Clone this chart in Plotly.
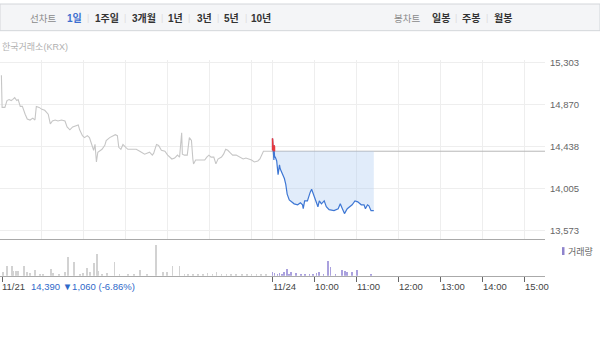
import plotly.graph_objects as go

# ---------------- data ----------------
prev_close = 14390
y_ticks = [13573, 14005, 14438, 14870, 15303]

# day 1 (11/21): minutes after 09:00, price
day1_min = [2, 3, 7, 10, 13, 16, 18, 21, 24, 26, 29, 32, 36, 39, 43, 47, 50, 52, 56, 60,
            64, 69, 72, 75, 79, 83, 88, 93, 96, 100, 104, 109, 112, 114, 118, 121, 125, 128, 131, 134,
            136, 138, 140, 143, 146, 150, 152, 157, 162, 165, 168, 170, 173, 176, 180, 183, 190, 195, 200, 207,
            214, 218, 220, 224, 227, 231, 236, 240, 246, 250, 254, 257, 260, 261, 264, 268, 271, 274, 276, 277,
            280, 286, 293, 296, 299, 302, 306, 309, 312, 317, 320, 323, 326, 330, 333, 338, 343, 348, 352, 357,
            360, 364, 369, 372, 375, 377, 388]
day1_price = [15170, 14840, 14840, 14910, 14920, 14910, 14920, 14940, 14910, 14920, 14850, 14850, 14770, 14720, 14710, 14730, 14710, 14850, 14840, 14820,
              14810, 14770, 14670, 14700, 14710, 14700, 14710, 14700, 14640, 14610, 14640, 14650, 14660, 14610, 14550, 14530, 14550, 14530, 14460, 14400,
              14460, 14280, 14380, 14400, 14410, 14450, 14500, 14530, 14550, 14560, 14550, 14430, 14410, 14460, 14430, 14410, 14410, 14410, 14390, 14360,
              14380, 14350, 14370, 14460, 14450, 14400, 14390, 14350, 14310, 14320, 14350, 14330, 14580, 14360, 14350, 14350, 14530, 14500, 14310, 14260,
              14300, 14300, 14300, 14330, 14350, 14330, 14330, 14260, 14310, 14330, 14360, 14410, 14400, 14370, 14350, 14350, 14330, 14310, 14320, 14310,
              14300, 14280, 14290, 14310, 14360, 14390, 14390]

# day 2 (11/24): minutes after 09:00, price
day2_min = [0, 0, 1, 2, 2, 3, 3, 4, 6, 8, 10, 11, 14, 17, 19, 21, 24, 27, 31, 36,
            40, 43, 44, 46, 50, 54, 56, 60, 63, 65, 67, 70, 74, 77, 81, 88, 94, 97, 100, 103,
            107, 111, 114, 118, 122, 127, 131, 133, 136, 138, 141, 145]
day2_price = [14400, 14520, 14400, 14300, 14450, 14440, 14330, 14330, 14290, 14150, 14250, 14210, 14160, 14110, 14050, 13950, 13890, 13870, 13850, 13840,
              13860, 13840, 13800, 13880, 13880, 13970, 14000, 13920, 13870, 13820, 13880, 13850, 13880, 13820, 13790, 13780, 13800, 13850, 13800, 13750,
              13800, 13820, 13840, 13880, 13870, 13840, 13840, 13800, 13840, 13830, 13780, 13780]

# volumes (thousand shares)
vol1_min = [4, 10, 17, 19, 23, 26, 34, 39, 43, 50, 57, 62, 73, 76, 84, 93, 97, 106, 114, 119,
            124, 129, 134, 139, 140, 146, 153, 164, 171, 183, 192, 200, 210, 223, 233, 239, 247, 257, 264, 269,
            276, 283, 290, 297, 304, 310, 317, 324, 331, 338, 346, 353, 360, 367, 374, 381]
vol1 = [4, 10, 10, 5, 5, 5, 10, 4, 3, 6, 2, 2, 7, 3, 2, 4, 19, 14, 2, 3,
        8, 4, 13, 22, 5, 2, 3, 14, 2, 2, 2, 6, 2, 31, 4, 4, 10, 10, 2, 2,
        2, 2, 2, 3, 2, 4, 2, 2, 2, 2, 2, 2, 2, 2, 2, 2]
vol2_min = [0, 3, 7, 10, 14, 17, 21, 24, 27, 34, 41, 47, 53, 58, 63, 67, 73, 79, 83, 90,
            100, 104, 107, 114, 121, 141]
vol2 = [4, 3, 2, 3, 2, 4, 7, 2, 4, 3, 2, 2, 2, 2, 3, 4, 2, 15, 9, 2,
        6, 5, 4, 4, 6, 1]

day_offset = 390          # trading minutes per day (09:00-15:30)
hour_ticks_day1 = [60, 120, 180, 240, 300, 360]
hour_ticks_day2 = [0, 60, 120, 180, 240, 300, 360]
time_labels = ["11/24", "10:00", "11:00", "12:00", "13:00", "14:00", "15:00"]

# ---------------- derived ----------------
x1 = day1_min
x2 = [m + day_offset for m in day2_min]
grid_x = hour_ticks_day1 + [m + day_offset for m in hour_ticks_day2]
v1x = vol1_min
v2x = [m + day_offset for m in vol2_min]


def above(xs, ys, ref):
    rx, ry = [], []
    for i in range(len(xs) - 1):
        xa, ya, xb, yb = xs[i], ys[i], xs[i + 1], ys[i + 1]
        if ya <= ref and yb <= ref:
            continue
        if ya > ref and yb > ref:
            seg = [(xa, ya), (xb, yb)]
        elif ya > ref:
            t = (ya - ref) / (ya - yb)
            seg = [(xa, ya), (xa + t * (xb - xa), ref)]
        else:
            t = (ref - ya) / (yb - ya)
            seg = [(xa + t * (xb - xa), ref), (xb, yb)]
        rx += [seg[0][0], seg[1][0], None]
        ry += [seg[0][1], seg[1][1], None]
    return rx, ry


W, H = 600, 341
def py(p):  # pixel y -> paper
    return 1 - p / H
def px(p):
    return p / W

FONT = "Liberation Sans, Noto Sans CJK KR, sans-serif"
XMAX = 780

fig = go.Figure()

# day 1 line
fig.add_trace(go.Scatter(x=x1, y=day1_price, mode="lines",
                         line=dict(color="#c6c6c6", width=1.1), xaxis="x", yaxis="y",
                         hoverinfo="skip"))
# reference line (previous close)
fig.add_trace(go.Scatter(x=[x1[-1], XMAX], y=[prev_close, prev_close], mode="lines",
                         line=dict(color="#b8b8b8", width=1), xaxis="x", yaxis="y",
                         hoverinfo="skip"))
# invisible base for fill
fig.add_trace(go.Scatter(x=[x2[0], x2[-1]], y=[prev_close, prev_close], mode="lines",
                         line=dict(width=0, color="rgba(0,0,0,0)"), xaxis="x", yaxis="y",
                         hoverinfo="skip"))
# day 2 line with fill
fig.add_trace(go.Scatter(x=x2, y=day2_price, mode="lines", fill="tonexty",
                         fillcolor="rgba(175,204,242,0.38)",
                         line=dict(color="#3e77d4", width=1.2), xaxis="x", yaxis="y",
                         hoverinfo="skip"))
rx, ry = above(x2, day2_price, prev_close)
fig.add_trace(go.Scatter(x=rx, y=ry, mode="lines", line=dict(color="#e8373d", width=1.3),
                         xaxis="x", yaxis="y", hoverinfo="skip"))

# volume bars
fig.add_trace(go.Bar(x=v1x, y=vol1, width=1.1, marker=dict(color="#d2d2d2", line=dict(width=0)),
                     xaxis="x2", yaxis="y2", hoverinfo="skip"))
fig.add_trace(go.Bar(x=v2x, y=vol2, width=1.1, marker=dict(color="#aaa1de", line=dict(width=0)),
                     xaxis="x2", yaxis="y2", hoverinfo="skip"))

plot_right = px(545)
fig.update_layout(
    width=W, height=H, margin=dict(l=0, r=0, t=0, b=0),
    paper_bgcolor="white", plot_bgcolor="white", showlegend=False,
    font=dict(family=FONT, size=10, color="#555"),
    bargap=0,
    xaxis=dict(domain=[0, plot_right], range=[0, XMAX], anchor="y",
               tickmode="array", tickvals=grid_x, showticklabels=False, ticks="",
               showgrid=True, gridcolor="#eeeeee", gridwidth=1, zeroline=False,
               showline=True, linecolor="#a9a9a9", linewidth=1),
    yaxis=dict(domain=[py(238), py(57)], range=[13487, 15323], anchor="x",
               side="right", tickmode="array", tickvals=y_ticks,
               ticktext=[f"{v:,}" for v in y_ticks],
               tickfont=dict(family=FONT, size=9.5, color="#666"),
               ticks="", ticklabelstandoff=4,
               showgrid=True, gridcolor="#eeeeee", gridwidth=1, zeroline=False, showline=False),
    xaxis2=dict(domain=[0, plot_right], range=[0, XMAX], anchor="y2",
                tickmode="array", tickvals=[3] + [m + day_offset for m in hour_ticks_day2],
                showticklabels=False, ticks="outside", ticklen=5, tickcolor="#666", tickwidth=1,
                showgrid=False, zeroline=False, showline=True, linecolor="#aaaaaa", linewidth=1),
    yaxis2=dict(domain=[py(275), py(242)], range=[0, 33], anchor="x2",
                visible=False, showgrid=False, zeroline=False),
)

shapes = [
    dict(type="rect", xref="paper", yref="paper", x0=0, x1=1, y0=py(27), y1=py(0),
         fillcolor="#f4f5f7", line=dict(color="#d3d6da", width=1), layer="below"),
    dict(type="rect", xref="paper", yref="paper", x0=px(562), x1=px(564.5), y0=py(254), y1=py(246),
         fillcolor="#8f84cc", line=dict(width=0)),
]
fig.update_layout(shapes=shapes)

ann = []
def txt(x, y, s, color="#333", size=10, bold=False, anchor="center", xref="paper"):
    ann.append(dict(x=x, y=y, xref=xref, yref="paper", text=(f"<b>{s}</b>" if bold else s),
                    showarrow=False, xanchor=anchor, yanchor="middle",
                    font=dict(family=FONT, size=size, color=color)))

# top bar
top_y = py(14.5)
txt(px(43), top_y, "선차트", "#8a8a8a", 9.5)
txt(px(74.5), top_y, "1일", "#3d6fd0", 10, True)
for cx, s in [(106.5, "1주일"), (143.5, "3개월"), (175.5, "1년"), (204, "3년"), (231, "5년"), (261, "10년")]:
    txt(px(cx), top_y, s, "#333", 10, True)
for sx in [88, 124.5, 162, 189, 218, 246]:
    txt(px(sx), top_y, "|", "#dddddd", 9)
txt(px(406.5), top_y, "봉차트", "#8a8a8a", 9.5)
for cx, s in [(440.5, "일봉"), (471, "주봉"), (502.5, "월봉")]:
    txt(px(cx), top_y, s, "#333", 10, True)
for sx in [456, 487]:
    txt(px(sx), top_y, "|", "#dddddd", 9)

txt(0, py(44), "한국거래소(KRX)", "#b0b0b0", 9, anchor="left")

# legend
txt(px(566), py(250), "거래량", "#666", 9, anchor="left")

# bottom labels
by = py(285.5)
txt(0, by, "11/21", "#444", 9.5, anchor="left")
txt(px(29), by, "14,390 ▼1,060 (-6.86%)", "#2f69c9", 9.5, anchor="left")
for m, s in zip(hour_ticks_day2, time_labels):
    txt(m + day_offset - 1.5, by, s, "#444", 9.5, anchor="left", xref="x2")

fig.update_layout(annotations=ann)

fig.write_html("out.html")
